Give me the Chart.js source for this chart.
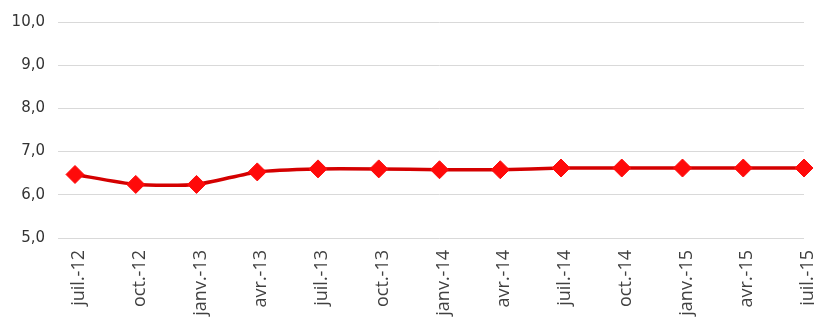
<!DOCTYPE html>
<html>
<head>
<meta charset="utf-8">
<script src="https://cdn.jsdelivr.net/npm/chart.js@4"></script>
<style>
  html, body { margin: 0; padding: 0; background: #fff; }
  #wrap { width: 814px; height: 320px; }
</style>
</head>
<body>
<div id="wrap"><canvas id="mainChart" width="814" height="320"></canvas></div>
<script>
const trimestres = ['juil.-12', 'oct.-12', 'janv.-13', 'avr.-13', 'juil.-13', 'oct.-13', 'janv.-14',
    'avr.-14', 'juil.-14', 'oct.-14', 'janv.-15', 'avr.-15', 'juil.-15'];
const valeurs = [6.47, 6.24, 6.24, 6.53, 6.6, 6.6, 6.58, 6.58, 6.62, 6.62, 6.62, 6.62, 6.62];
const yMin = 5;
const yMax = 10;
const yStep = 1;

const ctx = document.getElementById('mainChart').getContext('2d');
const lineChart = new Chart(ctx, {
    type: 'line',
    data: {
        labels: trimestres,
        datasets: [{
            data: valeurs,
            borderColor: '#d40000',
            borderWidth: 3.5,
            backgroundColor: '#ff0a0a',
            pointBackgroundColor: '#ff0a0a',
            pointBorderColor: '#ff0a0a',
            pointStyle: 'rectRot',
            pointRadius: 9,
            pointBorderWidth: 1,
            tension: 0.2,
            clip: false
        }]
    },
    options: {
        responsive: false,
        animation: false,
        layout: {
            padding: { top: 20, right: 9, left: 0, bottom: 0 }
        },
        scales: {
            x: {
                offset: false,
                grid: { display: false, drawTicks: false },
                border: { display: false },
                ticks: {
                    color: '#404040',
                    font: { family: 'Open Sans', size: 18 },
                    minRotation: 90,
                    maxRotation: 90,
                    padding: 12,
                    labelOffset: 4,
                    autoSkip: false
                },
                afterFit: function(scale) {
                    scale.height = 82;
                    scale.paddingLeft = 0;
                    scale.paddingRight = 0;
                }
            },
            y: {
                min: yMin,
                max: yMax,
                grid: { color: '#d9d9d9', lineWidth: 1, tickLength: 17 },
                border: { display: false },
                ticks: {
                    stepSize: yStep,
                    color: '#333333',
                    font: { family: 'DejaVu Sans', size: 15 },
                    padding: 13,
                    callback: function(v) { return v.toFixed(1).replace('.', ','); }
                },
                afterFit: function(scale) { scale.width = 75; }
            }
        },
        plugins: {
            legend: { display: false },
            tooltip: { enabled: false }
        }
    }
});
</script>
</body>
</html>
